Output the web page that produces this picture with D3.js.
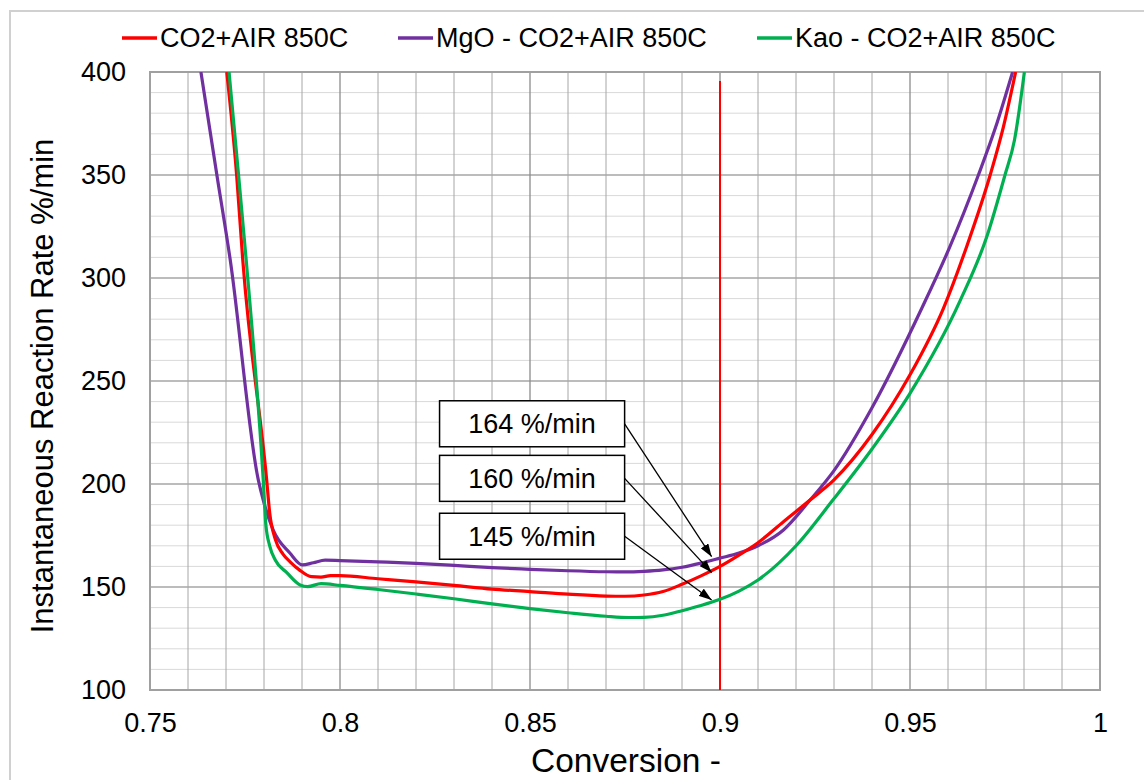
<!DOCTYPE html>
<html><head><meta charset="utf-8">
<script src="https://cdn.jsdelivr.net/npm/d3@7"></script>
<style>html,body{margin:0;padding:0;background:#fff;}svg{display:block;font-family:"Liberation Sans",Arial,sans-serif;}</style>
</head><body>
<svg id="chart" width="1144" height="780"></svg>
<script>
// ---- data ----
const seriesNames = ["CO2+AIR 850C", "MgO - CO2+AIR 850C", "Kao - CO2+AIR 850C"];
const seriesColors = ["#ff0000", "#7030a0", "#00b050"];

const convRed = [0.7702,0.7728,0.7744,0.7807,0.7815,0.7830,0.7850,0.7870,0.7893,0.7925,0.7950,0.7975,0.8000,0.8100,0.8200,0.8300,0.8400,0.8500,0.8600,0.8700,0.8750,0.8800,0.8850,0.8900,0.8950,0.9000,0.9050,0.9100,0.9167,0.9237,0.9300,0.9400,0.9500,0.9588,0.9649,0.9711,0.9746,0.9778];
const rateRed = [400,350,309,202,186,173,166,162,158.3,155,154.8,155.5,155.5,154,152.5,150.8,149,147.8,146.5,145.6,145.5,146.1,147.8,151.3,155.4,160,165.5,171.5,181.7,192.2,202,224,253,285.3,315.2,350,373.5,400];

const convMgO = [0.7634,0.7676,0.7711,0.7785,0.7798,0.7824,0.7868,0.7901,0.7930,0.7961,0.8000,0.8100,0.8200,0.8300,0.8400,0.8500,0.8600,0.8700,0.8750,0.8800,0.8850,0.8900,0.8950,0.9000,0.9050,0.9100,0.9167,0.9237,0.9300,0.9400,0.9531,0.9605,0.9680,0.9725,0.9770];
const rateMgO = [400,350,309,202,192.2,177.7,166.5,160.7,161.8,163,162.8,162.2,161.5,160.5,159.4,158.6,157.9,157.4,157.3,157.6,158.3,159.6,161.6,164,166.5,170,177.7,192.2,206.5,237,285.3,315.2,350,373,400];

const convKao = [0.7708,0.7733,0.7753,0.7798,0.7805,0.7815,0.7830,0.7860,0.7895,0.7915,0.7950,0.8000,0.8100,0.8200,0.8300,0.8400,0.8500,0.8600,0.8700,0.8760,0.8800,0.8850,0.8900,0.8950,0.9000,0.9050,0.9100,0.9202,0.9297,0.9400,0.9500,0.9632,0.9702,0.9750,0.9775,0.9801];
const rateKao = [400,350,309,202,180,170,163,157,151,150.2,151.6,150.8,148.8,146.6,144.3,141.8,139.5,137.5,135.8,135.2,135.3,136.3,138.5,141,144,148,153.4,170.4,192.2,217,244,289,320,350,367,400];

const xTickValues = [0.75,0.8,0.85,0.9,0.95,1];
const yTickValues = [100,150,200,250,300,350,400];

const markerX = 0.9, markerTop = 395.6;
const annotLabels = ["164 %/min", "160 %/min", "145 %/min"];
const annotTargetY = [164.7, 157, 143.7];
const annotBoxTop = [240.4, 213.9, 185.8];

// ---- layout ----
const svg = d3.select("#chart");
const L = 150, R = 1100, T = 72, B = 690;
const x = d3.scaleLinear().domain([0.75, 1]).range([L, R]);
const y = d3.scaleLinear().domain([100, 400]).range([B, T]);

// outer frame
svg.append("rect").attr("x",10).attr("y",11).attr("width",1200).attr("height",800)
  .attr("fill","#fff").attr("stroke","#d0d0d0").attr("stroke-width",2);

// grid
const g = svg.append("g");
const isMult = (v, m) => Math.abs(v / m - Math.round(v / m)) < 1e-6;
d3.range(100, 401, 10).forEach(v => {
  const maj = isMult(v, 50);
  g.append("line").attr("x1",L).attr("x2",R).attr("y1",y(v)).attr("y2",y(v))
    .attr("stroke", maj ? "#a6a6a6" : "#d9d9d9").attr("stroke-width", maj ? 1.5 : 1);
});
d3.range(0, 26).map(i => 0.75 + i * 0.01).forEach(v => {
  const maj = isMult(v - 0.75, 0.05);
  g.append("line").attr("x1",x(v)).attr("x2",x(v)).attr("y1",T).attr("y2",B)
    .attr("stroke", maj ? "#8c8c8c" : "#a6a6a6").attr("stroke-width", maj ? 1.3 : 1);
});
// plot border
svg.append("rect").attr("x",L).attr("y",T).attr("width",R-L).attr("height",B-T)
  .attr("fill","none").attr("stroke","#a0a0a0").attr("stroke-width",2);

// axes (labels only)
const xAxis = svg.append("g").attr("transform",`translate(0,${B})`)
  .call(d3.axisBottom(x).tickValues(xTickValues).tickSize(0).tickPadding(23).tickFormat(d => String(d)));
xAxis.select(".domain").remove();
xAxis.selectAll("text").attr("font-size",27).attr("fill","#000").attr("font-family","Liberation Sans, Arial, sans-serif");

const yAxis = svg.append("g").attr("transform",`translate(${L},0)`)
  .call(d3.axisLeft(y).tickValues(yTickValues).tickSize(0).tickPadding(24).tickFormat(d => String(d)));
yAxis.select(".domain").remove();
yAxis.selectAll("text").attr("font-size",27).attr("fill","#000").attr("font-family","Liberation Sans, Arial, sans-serif");

// titles
svg.append("text").attr("x", (L+R)/2 + 1).attr("y", 772).attr("text-anchor","middle")
  .attr("font-size",33.5).attr("fill","#000").text("Conversion -");
svg.append("text").attr("transform",`translate(53,${(T+B)/2 + 5}) rotate(-90)`).attr("text-anchor","middle")
  .attr("font-size",31).attr("fill","#000").text("Instantaneous Reaction Rate %/min");

// clip
svg.append("clipPath").attr("id","clip").append("rect").attr("x",L).attr("y",T).attr("width",R-L).attr("height",B-T);

// red marker line
svg.append("line").attr("x1",x(markerX)).attr("x2",x(markerX)).attr("y1",y(markerTop)).attr("y2",y(100))
  .attr("stroke","#ff0000").attr("stroke-width",2);

// series
const line = d3.line().x(d => x(d[0])).y(d => y(d[1])).curve(d3.curveMonotoneX);
const series = [
  d3.zip(convRed, rateRed),
  d3.zip(convMgO, rateMgO),
  d3.zip(convKao, rateKao)
];
const lg = svg.append("g").attr("clip-path","url(#clip)");
[1,0,2].forEach(i => {
  lg.append("path").datum(series[i]).attr("d", line).attr("fill","none")
    .attr("stroke", seriesColors[i]).attr("stroke-width", 3.2).attr("stroke-linejoin","round");
});

// legend
const legendX = [122, 398, 757];
seriesNames.forEach((n, i) => {
  svg.append("line").attr("x1",legendX[i]).attr("x2",legendX[i]+35).attr("y1",38).attr("y2",38)
    .attr("stroke",seriesColors[i]).attr("stroke-width",3.5);
  svg.append("text").attr("x",legendX[i]+38).attr("y",47).attr("font-size",27).attr("fill","#000").text(n);
});

// annotations
const defs = svg.append("defs");
defs.append("marker").attr("id","arrow").attr("viewBox","0 0 13 9").attr("refX",13).attr("refY",4.5)
  .attr("markerWidth",13).attr("markerHeight",9).attr("markerUnits","userSpaceOnUse").attr("orient","auto")
  .append("path").attr("d","M0,0 L13,4.5 L0,9 Z").attr("fill","#000");
const boxL = x(0.8262), boxR = x(0.8749), boxH = 46;
annotLabels.forEach((lab, i) => {
  const top = y(annotBoxTop[i]);
  svg.append("line").attr("x1",boxR).attr("y1",top + boxH/2).attr("x2",x(0.8978)).attr("y2",y(annotTargetY[i]))
    .attr("stroke","#000").attr("stroke-width",1.3).attr("marker-end","url(#arrow)");
  svg.append("rect").attr("x",boxL).attr("y",top).attr("width",boxR-boxL).attr("height",boxH)
    .attr("fill","#fff").attr("stroke","#000").attr("stroke-width",1.5);
  svg.append("text").attr("x",(boxL+boxR)/2).attr("y",top + 32.5).attr("text-anchor","middle")
    .attr("font-size",27).attr("fill","#000").text(lab);
});
</script>
</body></html>
